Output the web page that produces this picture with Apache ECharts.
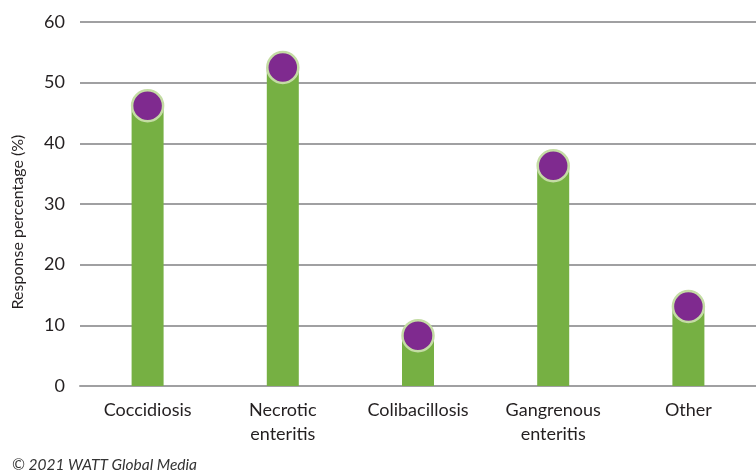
<!DOCTYPE html>
<html>
<head>
<meta charset="utf-8">
<script src="https://cdn.jsdelivr.net/npm/echarts@6/dist/echarts.min.js"></script>
<style>
  html, body { margin: 0; padding: 0; background: #fff; }
  #chart { width: 756px; height: 476px; }
</style>
</head>
<body>
<div id="chart"></div>
<script>
const categories = ["Coccidiosis", "Necrotic\nenteritis", "Colibacillosis", "Gangrenous\nenteritis", "Other"];
const values = [46.2, 52.5, 8.3, 36.3, 13.1];
const yTicks = { min: 0, max: 60, interval: 10 };

const font = "Lato";
const chart = echarts.init(document.getElementById("chart"));

chart.setOption({
  animation: false,
  grid: { left: 80, right: 0, top: 22, bottom: 90 },
  xAxis: {
    type: "category",
    data: categories,
    axisTick: { show: false },
    axisLine: { show: true, lineStyle: { color: "#a0a0a2", width: 2 } },
    axisLabel: {
      margin: 12,
      fontFamily: font,
      fontSize: 18,
      lineHeight: 24,
      color: "#231f20",
      interval: 0
    }
  },
  yAxis: {
    type: "value",
    min: yTicks.min,
    max: yTicks.max,
    interval: yTicks.interval,
    axisLine: { show: false },
    axisTick: { show: false },
    axisLabel: { margin: 15, fontFamily: font, fontSize: 18, color: "#231f20" },
    splitLine: { lineStyle: { color: "#a0a0a2", width: 2 } }
  },
  series: [
    {
      type: "bar",
      data: values,
      barWidth: 32,
      itemStyle: { color: "#76b043" }
    },
    {
      type: "scatter",
      data: values,
      symbol: "circle",
      symbolSize: 31,
      itemStyle: { color: "#7f2a8f", borderColor: "#c4dca4", borderWidth: 2.5, opacity: 1 },
      z: 3
    }
  ],
  graphic: [
    {
      type: "text",
      x: 18,
      y: 222,
      rotation: Math.PI / 2,
      style: {
        text: "Response percentage (%)",
        fontFamily: font,
        fontSize: 16,
        fill: "#231f20",
        align: "center",
        verticalAlign: "middle"
      }
    },
    {
      type: "text",
      left: 12,
      top: 457,
      style: {
        text: "© 2021 WATT Global Media",
        fontFamily: font,
        fontStyle: "italic",
        fontSize: 15.5,
        fill: "#333"
      }
    }
  ]
});
</script>
</body>
</html>
